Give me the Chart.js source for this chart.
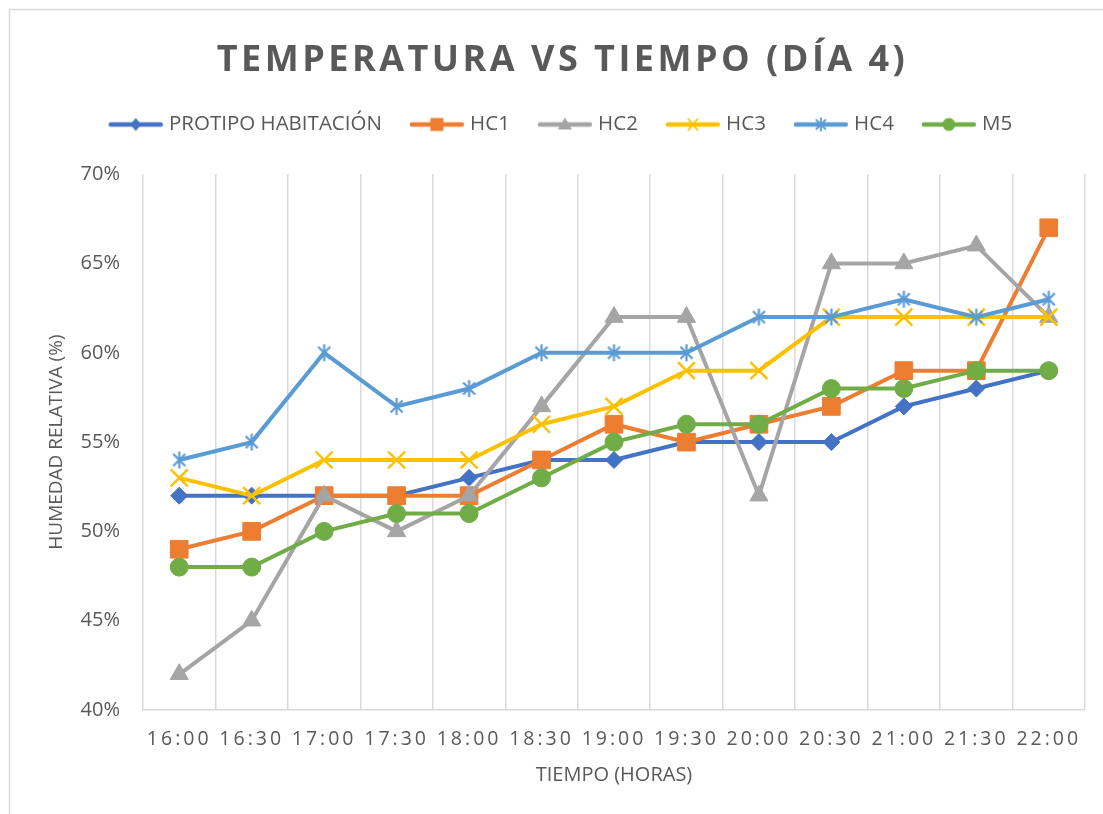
<!DOCTYPE html>
<html>
<head>
<meta charset="utf-8">
<script src="https://cdn.jsdelivr.net/npm/chart.js@4.4.1/dist/chart.umd.min.js"></script>
<style>
  html, body { margin: 0; padding: 0; background: #ffffff; }
  #wrap { width: 1103px; height: 814px; position: relative; }
</style>
</head>
<body>
<div id="wrap"><canvas id="c" width="1103" height="814"></canvas></div>
<script>
// ---- data ----
const chartTitle = 'TEMPERATURA VS TIEMPO (DÍA 4)';
const xAxisTitle = 'TIEMPO (HORAS)';
const yAxisTitle = 'HUMEDAD RELATIVA (%)';
const categories = ['16:00','16:30','17:00','17:30','18:00','18:30','19:00','19:30','20:00','20:30','21:00','21:30','22:00'];
const seriesNames = ['PROTIPO HABITACIÓN','HC1','HC2','HC3','HC4','M5'];
const protipo = [52, 52, 52, 52, 53, 54, 54, 55, 55, 55, 57, 58, 59];
const hc1     = [49, 50, 52, 52, 52, 54, 56, 55, 56, 57, 59, 59, 67];
const hc2     = [42, 45, 52, 50, 52, 57, 62, 62, 52, 65, 65, 66, 62];
const hc3     = [53, 52, 54, 54, 54, 56, 57, 59, 59, 62, 62, 62, 62];
const hc4     = [54, 55, 60, 57, 58, 60, 60, 60, 62, 62, 63, 62, 63];
const m5      = [48, 48, 50, 51, 51, 53, 55, 56, 56, 58, 58, 59, 59];
const yTicksMin = 40, yTicksMax = 70, yTicksStep = 5;

// ---- styles ----
const colors = ['#4472C4','#ED7D31','#A5A5A5','#FFC000','#5B9BD5','#70AD47'];
const txt = '#595959';
const grid = '#D9D9D9';
const FONT = "'Open Sans', 'Liberation Sans', sans-serif";

function asteriskCanvas(color, size, lw) {
  const c = document.createElement('canvas');
  c.width = size; c.height = size;
  const g = c.getContext('2d');
  g.strokeStyle = color; g.lineWidth = lw; g.lineCap = 'butt';
  const m = size / 2, r = size / 2 - 1, d = r * Math.SQRT1_2;
  g.beginPath();
  g.moveTo(m - d, m - d); g.lineTo(m + d, m + d);
  g.moveTo(m + d, m - d); g.lineTo(m - d, m + d);
  g.moveTo(m, m - r); g.lineTo(m, m + r);
  g.stroke();
  return c;
}

function legendIcon(idx) {
  const w = 56, h = 20;
  const c = document.createElement('canvas');
  c.width = w; c.height = h;
  const g = c.getContext('2d');
  const col = colors[idx];
  g.strokeStyle = col; g.fillStyle = col;
  g.lineWidth = 4.5; g.lineCap = 'round';
  g.beginPath(); g.moveTo(3, h/2); g.lineTo(w-3, h/2); g.stroke();
  const cx = w/2, cy = h/2;
  g.beginPath();
  if (idx === 0) { g.moveTo(cx, cy-6.5); g.lineTo(cx+5.5, cy); g.lineTo(cx, cy+6.5); g.lineTo(cx-5.5, cy); g.closePath(); g.fill(); }
  else if (idx === 1) { g.fillRect(cx-6.5, cy-6.5, 13, 13); }
  else if (idx === 2) { g.moveTo(cx, cy-7); g.lineTo(cx+7, cy+5); g.lineTo(cx-7, cy+5); g.closePath(); g.fill(); }
  else if (idx === 3) { g.lineWidth = 1.8; g.lineCap='butt'; g.moveTo(cx-5, cy-6); g.lineTo(cx+5, cy+6); g.moveTo(cx+5, cy-6); g.lineTo(cx-5, cy+6); g.stroke(); }
  else if (idx === 4) { g.lineWidth = 1.8; g.lineCap='butt'; g.moveTo(cx-5, cy-5); g.lineTo(cx+5, cy+5); g.moveTo(cx+5, cy-5); g.lineTo(cx-5, cy+5); g.moveTo(cx, cy-7); g.lineTo(cx, cy+7); g.stroke(); }
  else { g.arc(cx, cy, 6.5, 0, Math.PI*2); g.fill(); }
  return c;
}
const legendIcons = seriesNames.map((_, i) => legendIcon(i));

const seriesData = [protipo, hc1, hc2, hc3, hc4, m5];
const pointStyles = ['rectRot', 'rect', 'triangle', 'crossRot', asteriskCanvas(colors[4], 19, 2.2), 'circle'];
const pointRadii = [8.5, 12.5, 10.5, 12, 9, 9];
const pointBorderWidths = [1, 1, 1, 2.4, 1, 1];

const datasets = seriesNames.map((name, i) => ({
  label: name,
  data: seriesData[i],
  borderColor: colors[i],
  backgroundColor: colors[i],
  borderWidth: 4,
  tension: 0,
  pointStyle: pointStyles[i],
  pointRadius: pointRadii[i],
  pointHoverRadius: pointRadii[i],
  pointBackgroundColor: colors[i],
  pointBorderColor: colors[i],
  pointBorderWidth: pointBorderWidths[i],
  order: seriesNames.length - i
}));

const frame = {
  id: 'frame',
  beforeDraw(chart) {
    const ctx = chart.ctx;
    ctx.save();
    ctx.fillStyle = '#fff';
    ctx.fillRect(0, 0, chart.width, chart.height);
    ctx.strokeStyle = '#D9D9D9';
    ctx.lineWidth = 1.5;
    ctx.strokeRect(9.5, 9.5, 1200, 1000);
    ctx.restore();
    // letter spacing for title & x tick labels
    if (chart.titleBlock && !chart.titleBlock._ls) {
      const tb = chart.titleBlock; const od = tb.draw;
      tb.draw = function () { const c = this.ctx; c.save(); c.letterSpacing = '3.5px'; od.apply(this, arguments); c.restore(); };
      tb._ls = true;
    }
    const xs = chart.scales.x;
    if (xs && !xs._ls) {
      const ol = xs.drawLabels;
      xs.drawLabels = function () { const c = this.ctx; c.save(); c.letterSpacing = '3px'; ol.apply(this, arguments); c.restore(); };
      xs._ls = true;
    }
  },
  beforeUpdate(chart) {
    if (chart.legend && !chart.legend._fx) {
      const lg = chart.legend; const of = lg.fit;
      lg.fit = function () { of.apply(this, arguments); this.height += 29.5; };
      lg._fx = true;
    }
  }
};

new Chart(document.getElementById('c'), {
  type: 'line',
  data: { labels: categories, datasets },
  options: {
    responsive: false,
    animation: false,
    layout: { padding: { left: 40, right: 18, top: 10, bottom: 0 } },
    plugins: {
      tooltip: { enabled: false },
      title: {
        display: true,
        text: chartTitle,
        color: txt,
        font: { family: FONT, size: 36, weight: 'bold' },
        padding: { top: 29, bottom: 0 }
      },
      legend: {
        position: 'top',
        labels: {
          usePointStyle: true,
          pointStyleWidth: 46,
          padding: 32,
          color: txt,
          font: { family: FONT, size: 20.5 },
          sort: (a, b) => a.datasetIndex - b.datasetIndex,
          generateLabels(chart) {
            const items = Chart.defaults.plugins.legend.labels.generateLabels(chart);
            items.forEach(it => { it.pointStyle = legendIcons[it.datasetIndex]; });
            return items;
          }
        }
      }
    },
    scales: {
      x: {
        offset: true,
        grid: { display: true, color: grid, lineWidth: 1.5, drawTicks: false, offset: true },
        border: { display: true, color: grid, width: 1.5 },
        ticks: { color: txt, font: { family: FONT, size: 19.5 }, padding: 18, autoSkip: false, maxRotation: 0 },
        title: { display: true, text: xAxisTitle, color: txt, font: { family: FONT, size: 20 }, padding: { top: 0, bottom: 27 } },
        afterFit(scale) { scale.height = 104; }
      },
      y: {
        min: yTicksMin, max: yTicksMax,
        grid: { display: false, drawTicks: false },
        border: { display: false },
        ticks: { stepSize: yTicksStep, color: txt, font: { family: FONT, size: 20 }, padding: 23, callback: v => v + '%' },
        title: { display: true, text: yAxisTitle, color: txt, font: { family: FONT, size: 19 }, padding: { top: 5, bottom: 0 } },
        afterFit(scale) { scale.width = 103; }
      }
    }
  },
  plugins: [frame]
});
</script>
</body>
</html>
